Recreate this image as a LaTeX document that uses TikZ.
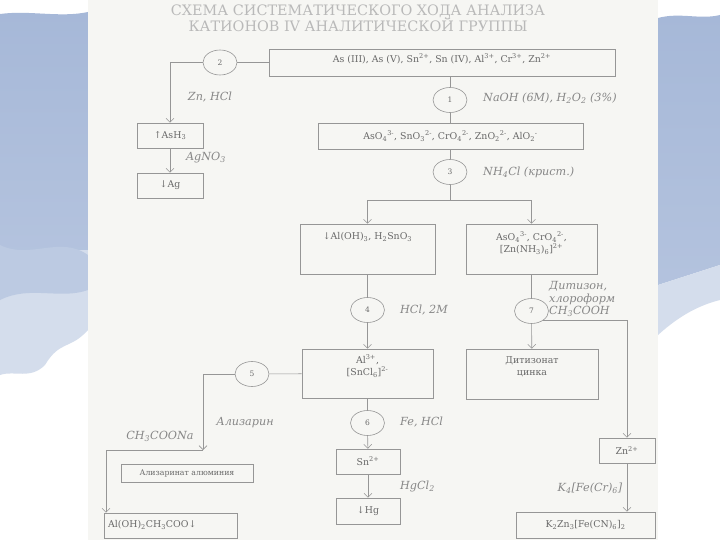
\documentclass[tikz,border=0pt]{standalone}
\usepackage{fontspec}
\setmainfont{DejaVu Serif}
\usetikzlibrary{positioning,shapes.geometric,arrows.meta}
\definecolor{sheet}{RGB}{246,246,243}
\definecolor{lineg}{RGB}{150,150,150}
\definecolor{txtg}{RGB}{105,105,105}
\definecolor{regg}{RGB}{135,135,135}
\definecolor{skyA}{RGB}{166,184,216}
\definecolor{skyB}{RGB}{212,221,236}
\newcommand{\chsub}[1]{\textsubscript{#1}}
\newcommand{\chsup}[1]{\textsuperscript{#1}}
\tikzstyle{bx}=[rectangle,draw=lineg,line width=0.6pt,inner sep=0pt,text=txtg,font=\fontsize{9.4}{10}\selectfont,align=center]
\tikzstyle{bT}=[inner sep=0pt,text=txtg,font=\fontsize{9.4}{12}\selectfont,align=center]
\tikzstyle{nS}=[ellipse,draw=lineg,line width=0.6pt,minimum width=34pt,minimum height=25pt,inner sep=0pt,text=txtg,font=\fontsize{7.5}{9}\selectfont]
\tikzstyle{rS}=[inner sep=0pt,text=regg,font=\fontsize{11.2}{12.5}\selectfont\itshape,align=left]
\tikzstyle{eL}=[draw=lineg,line width=0.6pt]
\tikzstyle{eA}=[eL,-{Straight Barb[length=4pt,width=8pt]}]
\tikzstyle{tT}=[inner sep=0pt,text=gray!55,font=\fontsize{14.4}{14.4}\selectfont]

\begin{document}
\begin{tikzpicture}[x=1pt,y=-1pt]
                \useasboundingbox (0,0) rectangle (720,540);
                % sky and clouds
                \fill[white] (0,0) rectangle (720,540);
                \shade[top color=skyA,bottom color=skyA!85!white] (0,14) .. controls (30,10) and (60,18) .. (88,12) -- (88,250) -- (0,250) -- cycle;
                \fill[skyB] (0,250) -- (88,250) -- (88,330) .. controls (70,350) and (60,340) .. (45,365) .. controls (30,380) and (15,370) .. (0,375) -- cycle;
                \fill[skyA!75!white] (0,245) .. controls (30,260) and (60,235) .. (88,255) -- (88,290) .. controls (60,300) and (30,285) .. (0,300) -- cycle;
                \shade[top color=skyA,bottom color=skyA!85!white] (658,18) .. controls (680,12) and (700,20) .. (720,15) -- (720,265) -- (658,285) -- cycle;
                \fill[skyB] (658,285) -- (720,265) -- (720,300) .. controls (700,305) and (680,315) .. (658,335) -- cycle;
                \fill[sheet] (88,0) rectangle (658,540);
                % title
                \draw (358,11) node[tT] (t1) {СХЕМА СИСТЕМАТИЧЕСКОГО ХОДА АНАЛИЗА};
                \draw (358,25) node[tT] (t2) {КАТИОНОВ IV АНАЛИТИЧЕСКОЙ ГРУППЫ};
                % boxes
                \draw (442,62.5) node[bx,minimum width=346pt,minimum height=27pt] (b0) {};
                \draw (442,59) node[bT] (b0t) {As (III), As (V), Sn\chsup{2+}, Sn (IV), Al\chsup{3+}, Cr\chsup{3+}, Zn\chsup{2+}};
                \draw (450.5,136) node[bx,minimum width=265pt,minimum height=26pt] (b1) {AsO\chsub{4}\chsup{3-}, SnO\chsub{3}\chsup{2-}, CrO\chsub{4}\chsup{2-}, ZnO\chsub{2}\chsup{2-}, AlO\chsub{2}\chsup{-}};
                \draw (170,135.5) node[bx,minimum width=66pt,minimum height=25pt] (b8) {↑AsH\chsub{3}};
                \draw (170,185.5) node[bx,minimum width=66pt,minimum height=25pt] (b9) {↓Ag};
                \draw (367.5,249) node[bx,minimum width=135pt,minimum height=50pt] (b2) {};
                \draw (367.5,237) node[bT] (b2t) {↓Al(OH)\chsub{3}, H\chsub{2}SnO\chsub{3}};
                \draw (531.5,249) node[bx,minimum width=131pt,minimum height=50pt] (b3) {};
                \draw (531.5,243) node[bT] (b3t) {AsO\chsub{4}\chsup{3-}, CrO\chsub{4}\chsup{2-},\\ {[}Zn(NH\chsub{3})\chsub{6}{]}\chsup{2+}};
                \draw (367.5,373.5) node[bx,minimum width=131pt,minimum height=49pt] (b4) {};
                \draw (367.5,366) node[bT] (b4t) {Al\chsup{3+},\\ {[}SnCl\chsub{6}{]}\chsup{2-}};
                \draw (532,374) node[bx,minimum width=132pt,minimum height=50pt] (b5) {};
                \draw (532,367) node[bT] (b5t) {Дитизонат\\ цинка};
                \draw (368,461.5) node[bx,minimum width=64pt,minimum height=25pt] (b6) {Sn\chsup{2+}};
                \draw (368,511) node[bx,minimum width=64pt,minimum height=26pt] (b7) {↓Hg};
                \draw (187,473) node[bx,minimum width=132pt,minimum height=18pt,font=\fontsize{7.8}{9}\selectfont] (b10) {Ализаринат алюминия};
                \draw (170.5,525.5) node[bx,minimum width=133pt,minimum height=25pt] (b11) {};
                \draw (108,525) node[bT,anchor=west] (b11t) {Al(OH)\chsub{2}CH\chsub{3}COO↓};
                \draw (627,450.5) node[bx,minimum width=56pt,minimum height=25pt] (b12) {Zn\chsup{2+}};
                \draw (585.5,525) node[bx,minimum width=139pt,minimum height=26pt] (b13) {K\chsub{2}Zn\chsub{3}{[}Fe(CN)\chsub{6}{]}\chsub{2}};
                % stages
                \draw (450,100) node[nS] (n1) {1};
                \draw (220,62.5) node[nS] (n2) {2};
                \draw (450,172) node[nS] (n3) {3};
                \draw (367.5,310) node[nS] (n4) {4};
                \draw (252,374) node[nS] (n5) {5};
                \draw (367.5,423) node[nS] (n6) {6};
                \draw (531.5,311) node[nS] (n7) {7};
                \coordinate (sp) at (450,200);
                \coordinate (c5) at (203,450);
                \coordinate (c9) at (106,450);
                % reagents
                \draw (210,97) node[rS] (r2) {Zn, HCl};
                \draw (206,158) node[rS] (r8) {AgNO\chsub{3}};
                \draw (483,98) node[rS,anchor=west] (r1) {NaOH (6M), H\chsub{2}O\chsub{2} (3\%)};
                \draw (483,172) node[rS,anchor=west] (r3) {NH\chsub{4}Cl (крист.)};
                \draw (400,310) node[rS,anchor=west] (r4) {HCl, 2M};
                \draw (549,299) node[rS,anchor=west] (r7) {Дитизон,\\ хлороформ\\ CH\chsub{3}COOH};
                \draw (245,423) node[rS] (r5) {Ализарин};
                \draw (160,436) node[rS] (r9) {CH\chsub{3}COONa};
                \draw (400,422) node[rS,anchor=west] (r6) {Fe, HCl};
                \draw (400,486) node[rS,anchor=west] (r10) {HgCl\chsub{2}};
                \draw (590,488) node[rS] (r12) {K\chsub{4}{[}Fe(Cr)\chsub{6}{]}};
                % connectors
                \draw[eL] (b0) -- (n2);
                \draw[eA] (n2) -| (b8.north);
                \draw[eA] (b8) -- (b9);
                \draw[eL] (n1 |- b0.south) -- (n1);
                \draw[eL] (n1) -- (n1 |- b1.north);
                \draw[eL] (n3 |- b1.south) -- (n3);
                \draw[eL] (n3) -- (sp);
                \draw[eA] (sp) -| (b2.north);
                \draw[eA] (sp) -| (b3.north);
                \draw[eL] (b2) -- (n4);
                \draw[eA] (n4) -- (b4);
                \draw[eL] (b3) -- (n7);
                \draw[eA] (n7) -- (b5);
                \draw[eA] (n7.-40) -| (b12.north);
                \draw[eA] (b12) -- (b12 |- b13.north);
                \draw[eL] (b4) -- (n6);
                \draw[eA] (n6) -- (b6);
                \draw[eA] (b6) -- (b7);
                \draw[eL] (b4) -- (n5);
                \draw[eA] (n5) -| (c5);
                \draw[eL] (c5) -- (c9);
                \draw[eA] (c9) -- (c9 |- b11.north);
        \end{tikzpicture}
\end{document}
